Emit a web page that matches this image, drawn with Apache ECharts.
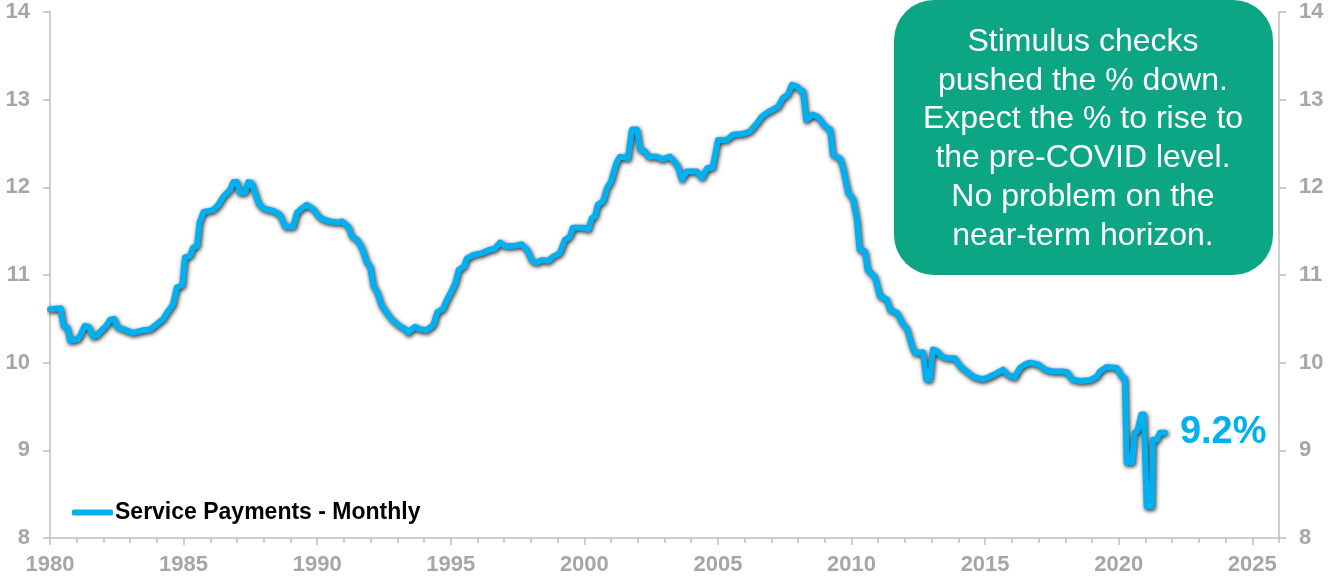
<!DOCTYPE html>
<html>
<head>
<meta charset="utf-8">
<script src="https://cdn.jsdelivr.net/npm/echarts@6/dist/echarts.min.js"></script>
<style>
html,body{margin:0;padding:0;background:#fff;}
#chart{width:1339px;height:588px;}
</style>
</head>
<body>
<div id="chart"></div>
<script>
// Data
var years = [
1980.0,1980.4,1980.5,1980.65,1980.75,1981.05,1981.15,1981.3,1981.45,1981.6,1981.75,1981.9,
1982.1,1982.25,1982.4,1982.5,1982.75,1983.1,1983.5,1983.75,1984.0,1984.24,1984.4,1984.6,
1984.75,1984.95,1985.05,1985.25,1985.35,1985.5,1985.6,1985.75,1986.1,1986.3,1986.5,1986.74,
1986.86,1987.0,1987.1,1987.3,1987.42,1987.55,1987.67,1987.8,1987.98,1988.36,1988.6,1988.8,
1989.1,1989.24,1989.42,1989.6,1989.86,1990.05,1990.24,1990.5,1990.74,1990.93,1991.17,1991.3,
1991.5,1991.67,1991.86,1991.98,1992.1,1992.25,1992.4,1992.6,1992.8,1993.03,1993.3,1993.4,
1993.66,1993.85,1994.1,1994.35,1994.5,1994.7,1994.86,1995.05,1995.17,1995.3,1995.5,1995.6,
1995.85,1996.17,1996.47,1996.65,1996.84,1997.03,1997.33,1997.65,1997.85,1998.04,1998.22,1998.4,
1998.65,1998.83,1999.08,1999.27,1999.46,1999.57,1999.95,2000.15,2000.28,2000.4,2000.5,2000.7,
2000.84,2001.0,2001.2,2001.33,2001.63,2001.78,2001.97,2002.08,2002.27,2002.38,2002.7,2002.9,
2003.2,2003.4,2003.5,2003.65,2003.84,2004.2,2004.4,2004.6,2004.8,2005.0,2005.33,2005.56,
2005.94,2006.2,2006.46,2006.65,2006.83,2007.06,2007.25,2007.43,2007.62,2007.77,2007.96,2008.07,
2008.18,2008.3,2008.56,2008.75,2009.0,2009.2,2009.3,2009.57,2009.68,2009.87,2010.05,2010.2,
2010.3,2010.5,2010.6,2010.87,2011.06,2011.32,2011.44,2011.7,2011.9,2012.07,2012.26,2012.37,
2012.67,2012.8,2012.93,2013.05,2013.2,2013.38,2013.6,2013.87,2014.06,2014.3,2014.55,2014.88,
2015.1,2015.44,2015.67,2015.85,2016.1,2016.3,2016.5,2016.68,2016.98,2017.24,2017.5,2017.88,
2018.07,2018.25,2018.55,2018.92,2019.18,2019.3,2019.55,2019.93,2020.12,2020.23,2020.3,2020.5,
2020.6,2020.7,2020.85,2020.94,2021.05,2021.24,2021.28,2021.43,2021.54,2021.73
];
var servicePayments = [
10.61,10.62,10.42,10.40,10.25,10.27,10.32,10.42,10.41,10.30,10.31,10.36,
10.42,10.49,10.50,10.41,10.38,10.34,10.37,10.38,10.44,10.50,10.58,10.66,
10.86,10.88,11.20,11.22,11.31,11.33,11.60,11.72,11.74,11.80,11.90,11.97,
12.06,12.06,11.94,11.94,12.06,12.05,11.94,11.82,11.76,11.73,11.69,11.55,
11.55,11.71,11.76,11.80,11.75,11.67,11.63,11.61,11.60,11.61,11.55,11.44,
11.40,11.31,11.14,11.10,10.88,10.80,10.66,10.57,10.49,10.43,10.38,10.34,
10.41,10.38,10.37,10.43,10.58,10.61,10.72,10.83,10.91,11.06,11.10,11.19,
11.23,11.25,11.29,11.30,11.37,11.33,11.33,11.35,11.29,11.16,11.14,11.17,
11.16,11.21,11.25,11.40,11.44,11.54,11.54,11.52,11.65,11.67,11.80,11.84,
11.99,12.07,12.28,12.35,12.33,12.66,12.66,12.43,12.41,12.35,12.35,12.32,
12.35,12.28,12.24,12.09,12.18,12.18,12.11,12.22,12.22,12.54,12.54,12.60,
12.61,12.64,12.73,12.81,12.85,12.89,12.92,13.02,13.06,13.17,13.15,13.11,
13.10,12.77,12.83,12.80,12.70,12.66,12.37,12.33,12.22,11.94,11.87,11.63,
11.29,11.27,11.06,10.98,10.76,10.72,10.60,10.57,10.45,10.39,10.19,10.11,
10.12,9.81,9.81,10.15,10.13,10.07,10.05,10.05,9.96,9.90,9.84,9.81,
9.83,9.88,9.92,9.86,9.83,9.94,9.98,10.00,9.98,9.92,9.90,9.90,
9.89,9.81,9.79,9.80,9.84,9.90,9.95,9.94,9.84,9.82,8.86,8.86,
9.20,9.22,9.41,9.41,8.36,8.36,9.12,9.12,9.20,9.20
];
var seriesName = 'Service Payments - Monthly';
var yTicks = [8, 9, 10, 11, 12, 13, 14];
var xTickLabels = [1980, 1985, 1990, 1995, 2000, 2005, 2010, 2015, 2020, 2025];
var noteLines = [
  'Stimulus checks',
  'pushed the % down.',
  'Expect the % to rise to',
  'the pre-COVID level.',
  'No problem on the',
  'near-term horizon.'
];

var FONT = '"Liberation Sans", Arial, Helvetica, sans-serif';
var AXIS_COLOR = '#BFBFBF';
var LABEL_COLOR = '#A6A6A6';
var LINE_COLOR = '#00B0F0';

var points = years.map(function (y, i) { return [y, servicePayments[i]]; });

var chart = echarts.init(document.getElementById('chart'), null, {renderer: 'canvas'});

var yAxisBase = {
  type: 'value',
  min: yTicks[0],
  max: yTicks[yTicks.length - 1],
  interval: 1,
  splitLine: {show: false},
  axisLine: {show: true, lineStyle: {color: AXIS_COLOR, width: 1.5}},
  axisTick: {show: true, length: 7, lineStyle: {color: AXIS_COLOR, width: 1.5}},
  axisLabel: {
    color: LABEL_COLOR, fontSize: 22, fontWeight: 'bold', fontFamily: FONT, margin: 20
  }
};

chart.setOption({
  animation: false,
  backgroundColor: '#ffffff',
  grid: {left: 50, right: 60, top: 12, bottom: 50, containLabel: false},
  legend: {
    show: true,
    left: 72,
    top: 501,
    padding: 0,
    icon: 'roundRect',
    itemWidth: 41,
    itemHeight: 6,
    itemGap: 10,
    textStyle: {color: '#000', fontSize: 23, fontWeight: 'bold', fontFamily: FONT, padding: [0, 0, 0, -3]},
    data: [{name: seriesName, itemStyle: {color: LINE_COLOR}}]
  },
  xAxis: [{
    type: 'value',
    position: 'bottom',
    min: 1980,
    max: 2026,
    interval: 5,
    splitLine: {show: false},
    axisLine: {show: true, onZero: false, lineStyle: {color: AXIS_COLOR, width: 1.5}},
    axisTick: {show: true, length: 7, lineStyle: {color: AXIS_COLOR, width: 1.5}},
    axisLabel: {
      color: LABEL_COLOR, fontSize: 22, fontWeight: 'bold', fontFamily: FONT, margin: 16,
      showMaxLabel: false,
      formatter: function (v) { return xTickLabels.indexOf(v) >= 0 ? String(v) : ''; }
    }
  }, {
    type: 'value',
    position: 'bottom',
    min: 1980,
    max: 2026,
    interval: 1,
    splitLine: {show: false},
    axisLine: {show: false, onZero: false},
    axisTick: {show: true, length: 5, lineStyle: {color: AXIS_COLOR, width: 1.5}},
    axisLabel: {show: false}
  }],
  yAxis: [
    Object.assign({}, yAxisBase, {position: 'left'}),
    Object.assign({}, yAxisBase, {position: 'right'})
  ],
  series: [{
    name: seriesName,
    type: 'line',
    xAxisIndex: 0,
    yAxisIndex: 0,
    data: points,
    showSymbol: false,
    symbol: 'none',
    color: LINE_COLOR,
    lineStyle: {
      color: LINE_COLOR, width: 6, join: 'round', cap: 'round',
      shadowColor: 'rgba(0,0,0,0.85)', shadowBlur: 4, shadowOffsetX: 1, shadowOffsetY: 1.5
    },
    endLabel: {
      show: true,
      distance: 15,
      color: LINE_COLOR,
      fontSize: 38,
      fontWeight: 'bold',
      fontFamily: FONT,
      formatter: function (p) { return p.value[1].toFixed(1) + '%'; }
    }
  }],
  graphic: [{
    type: 'group',
    children: [{
      type: 'rect',
      shape: {x: 894, y: 0, width: 379, height: 275, r: 40},
      style: {fill: '#0CA684'}
    }, {
      type: 'text',
      x: 1083,
      y: 139,
      style: {
        text: noteLines.join('\n'),
        fill: '#ffffff',
        font: '32px ' + FONT,
        align: 'center',
        verticalAlign: 'middle',
        lineHeight: 38.7
      }
    }]
  }]
});
</script>
</body>
</html>
